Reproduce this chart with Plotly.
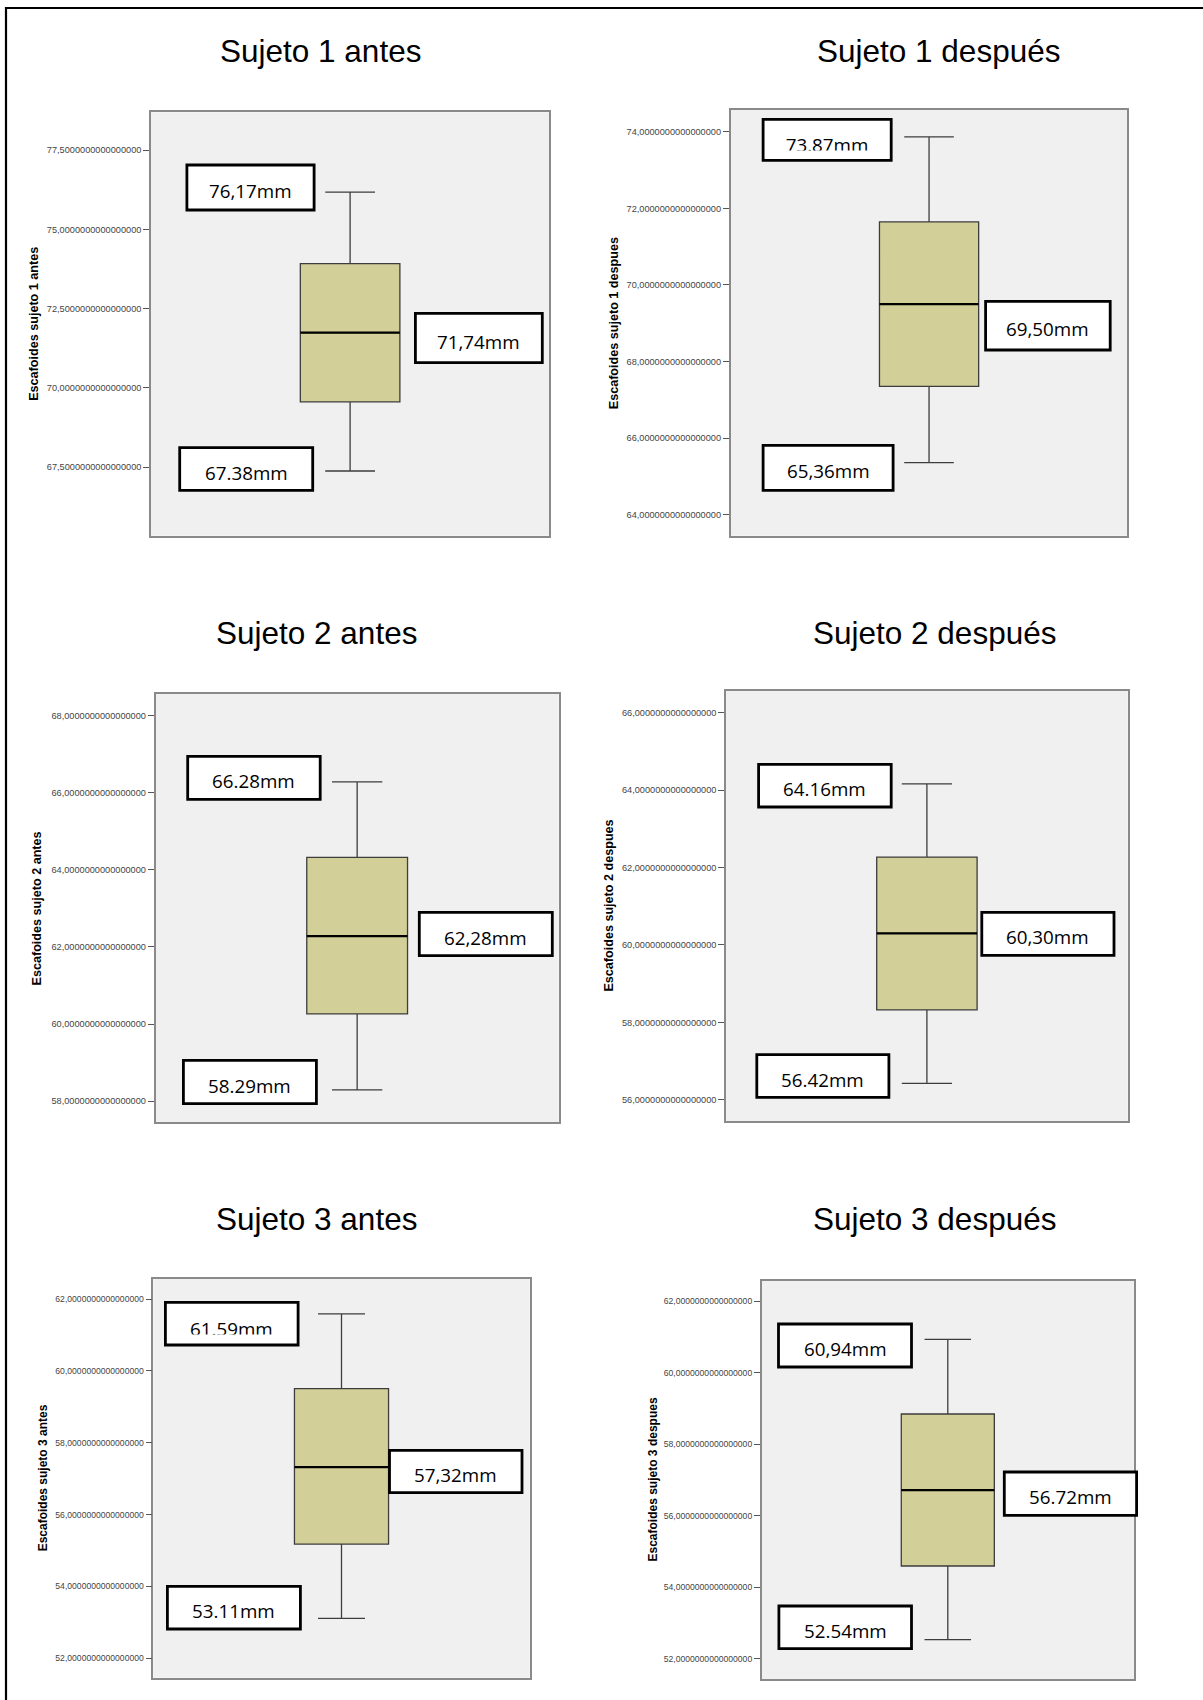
import plotly.graph_objects as go

# ---- data -------------------------------------------------------------
titles = ["Sujeto 1 antes", "Sujeto 1 después", "Sujeto 2 antes",
          "Sujeto 2 después", "Sujeto 3 antes", "Sujeto 3 después"]
axis_titles = ["Escafoides sujeto 1 antes", "Escafoides sujeto 1 despues",
               "Escafoides sujeto 2 antes", "Escafoides sujeto 2 despues",
               "Escafoides sujeto 3 antes", "Escafoides sujeto 3 despues"]

minimums = [67.38, 65.36, 58.29, 56.42, 53.11, 52.54]
q1 = [69.56, 67.35, 60.26, 58.32, 55.18, 54.60]
medians = [71.74, 69.50, 62.28, 60.30, 57.32, 56.72]
q3 = [73.92, 71.65, 64.32, 62.27, 59.51, 58.85]
maximums = [76.17, 73.87, 66.28, 64.16, 61.59, 60.94]

max_labels = ["76,17mm", "73.87mm", "66.28mm", "64.16mm", "61.59mm", "60,94mm"]
median_labels = ["71,74mm", "69,50mm", "62,28mm", "60,30mm", "57,32mm", "56.72mm"]
min_labels = ["67.38mm", "65,36mm", "58.29mm", "56.42mm", "53.11mm", "52.54mm"]

y_ticks = [
    [67.5, 70.0, 72.5, 75.0, 77.5],
    [64, 66, 68, 70, 72, 74],
    [58, 60, 62, 64, 66, 68],
    [56, 58, 60, 62, 64, 66],
    [52, 54, 56, 58, 60, 62],
    [52, 54, 56, 58, 60, 62],
]

# ---- page layout (pixels) -------------------------------------------
W, H = 1203, 1700


def fx(px):
    return px / W


def fy(py):
    return 1 - py / H


# plot rectangles: left, top, right, bottom
plot_rects = [
    (151.0, 112.3, 549.2, 535.7),
    (730.7, 110.0, 1127.4, 535.7),
    (155.6, 694.0, 558.7, 1122.3),
    (726.1, 691.0, 1127.7, 1121.0),
    (153.3, 1279.0, 529.7, 1677.7),
    (761.7, 1281.0, 1133.9, 1679.0),
]
y_ranges = [
    (65.34, 78.69), (63.45, 74.57), (57.45, 68.56),
    (55.45, 66.56), (51.46, 62.56), (51.44, 62.57),
]
title_pos = [(320.8, 51.5), (938.0, 51.5), (316.5, 633.0),
             (934.2, 633.0), (316.5, 1218.5), (934.2, 1218.5)]
axis_title_x = [33.8, 613.4, 37.3, 608.6, 43.0, 652.5]
tick_font_sizes = [9.2, 9.2, 9.2, 9.2, 8.6, 8.6]
axis_title_sizes = [12.6, 12.6, 12.6, 12.6, 12.0, 12.0]

# callout boxes: x0, y0, x1, y1
max_boxes = [(186.9, 165.0, 314.1, 210.0), (763.1, 119.3, 891.2, 160.3),
             (187.7, 756.3, 320.2, 799.3), (758.6, 764.3, 891.2, 807.0),
             (165.4, 1302.3, 298.1, 1345.0), (778.5, 1324.0, 911.5, 1367.0)]
median_boxes = [(415.4, 313.3, 542.3, 362.7), (985.6, 301.3, 1110.2, 350.0),
                (419.3, 912.3, 552.3, 955.7), (981.8, 912.3, 1114.0, 955.3),
                (389.5, 1450.3, 522.0, 1492.7), (1004.3, 1472.0, 1136.6, 1515.3)]
min_boxes = [(179.7, 447.7, 312.7, 490.3), (763.1, 445.3, 893.1, 490.3),
             (183.4, 1060.3, 316.4, 1103.7), (756.8, 1054.7, 888.9, 1097.3),
             (167.4, 1586.3, 300.4, 1629.0), (778.9, 1606.0, 911.5, 1648.7)]
# text boxes whose text overflows and is cut off: (line top, clip bottom)
clipped_max = {1: (131.6, 150.2), 4: (1315.6, 1334.0)}

BOX_FILL = "#d3cf99"
PLOT_BG = "#f0f0f0"
FRAME = "#8a8a8a"
LABEL_FONT = dict(family="Open Sans", size=18.8, color="black")

fig = go.Figure()
layout = dict(
    width=W, height=H,
    margin=dict(l=0, r=0, t=0, b=0),
    paper_bgcolor="white",
    plot_bgcolor=PLOT_BG,
    separators=",.",
    showlegend=False,
    shapes=[],
    annotations=[],
)

for i in range(6):
    n = "" if i == 0 else str(i + 1)
    xa, ya = "x" + n, "y" + n
    left, top, right, bottom = plot_rects[i]

    fig.add_trace(go.Box(
        x=[0], q1=[q1[i]], median=[medians[i]], q3=[q3[i]],
        lowerfence=[minimums[i]], upperfence=[maximums[i]],
        orientation="v", width=1.0, whiskerwidth=0.5, boxpoints=False,
        fillcolor=BOX_FILL, line=dict(color="#3d3d3d", width=1.3),
        xaxis=xa, yaxis=ya, hoverinfo="skip",
    ))
    # heavier median stroke
    fig.add_trace(go.Scatter(
        x=[-0.5, 0.5], y=[medians[i], medians[i]], mode="lines",
        line=dict(color="black", width=2.2),
        xaxis=xa, yaxis=ya, hoverinfo="skip",
    ))

    layout["xaxis" + n] = dict(
        domain=[fx(left), fx(right)], anchor=ya, range=[-2, 2],
        showticklabels=False, ticks="", showgrid=False, zeroline=False,
        showline=True, mirror=True, linecolor=FRAME, linewidth=1.6,
        fixedrange=True,
    )
    layout["yaxis" + n] = dict(
        domain=[fy(bottom), fy(top)], anchor=xa, range=list(y_ranges[i]),
        tickvals=y_ticks[i], tickformat=".16f",
        ticks="outside", ticklen=6, tickwidth=1, tickcolor="#555555",
        tickfont=dict(family="Liberation Sans", size=tick_font_sizes[i],
                      color="#444444"),
        showgrid=False, zeroline=False,
        showline=True, mirror=True, linecolor=FRAME, linewidth=1.6,
        fixedrange=True,
    )

    # chart title
    tx, ty = title_pos[i]
    layout["annotations"].append(dict(
        text=titles[i], xref="paper", yref="paper", x=fx(tx), y=fy(ty),
        xanchor="center", yanchor="middle", showarrow=False,
        font=dict(family="Liberation Sans", size=31.5, color="black"),
    ))
    # vertical axis title
    layout["annotations"].append(dict(
        text="<b>" + axis_titles[i] + "</b>", xref="paper", yref="paper",
        x=fx(axis_title_x[i]), y=fy((top + bottom) / 2), textangle=-90,
        xanchor="center", yanchor="middle", showarrow=False,
        font=dict(family="Liberation Sans", size=axis_title_sizes[i],
                  color="black"),
    ))

    # callout boxes with their values
    for kind, boxes, labels in (("max", max_boxes, max_labels),
                                ("med", median_boxes, median_labels),
                                ("min", min_boxes, min_labels)):
        x0, y0, x1, y1 = boxes[i]
        layout["shapes"].append(dict(
            type="rect", xref="paper", yref="paper",
            x0=fx(x0), x1=fx(x1), y0=fy(y1), y1=fy(y0),
            line=dict(color="black", width=2.8), fillcolor="white",
            layer="above",
        ))
        cx = (x0 + x1) / 2
        if kind == "max" and i in clipped_max:
            line_top, clip_bottom = clipped_max[i]
            layout["annotations"].append(dict(
                text=labels[i], xref="paper", yref="paper",
                x=fx(cx), y=fy(line_top), xanchor="center", yanchor="top",
                width=x1 - x0 - 12, height=clip_bottom - line_top,
                valign="top", align="center", borderpad=0, borderwidth=0,
                showarrow=False, font=LABEL_FONT,
            ))
        else:
            layout["annotations"].append(dict(
                text=labels[i], xref="paper", yref="paper",
                x=fx(cx), y=fy((y0 + y1) / 2 + 3.5),
                xanchor="center", yanchor="middle", borderpad=0,
                showarrow=False, font=LABEL_FONT,
            ))

# page frame (top and left rules)
layout["shapes"].append(dict(
    type="line", xref="paper", yref="paper",
    x0=fx(5), x1=1, y0=fy(8), y1=fy(8),
    line=dict(color="black", width=2.2), layer="above",
))
layout["shapes"].append(dict(
    type="line", xref="paper", yref="paper",
    x0=fx(6), x1=fx(6), y0=fy(7), y1=0,
    line=dict(color="black", width=2.2), layer="above",
))

fig.update_layout(**layout)
fig.write_html("out.html", config={"displayModeBar": False})
